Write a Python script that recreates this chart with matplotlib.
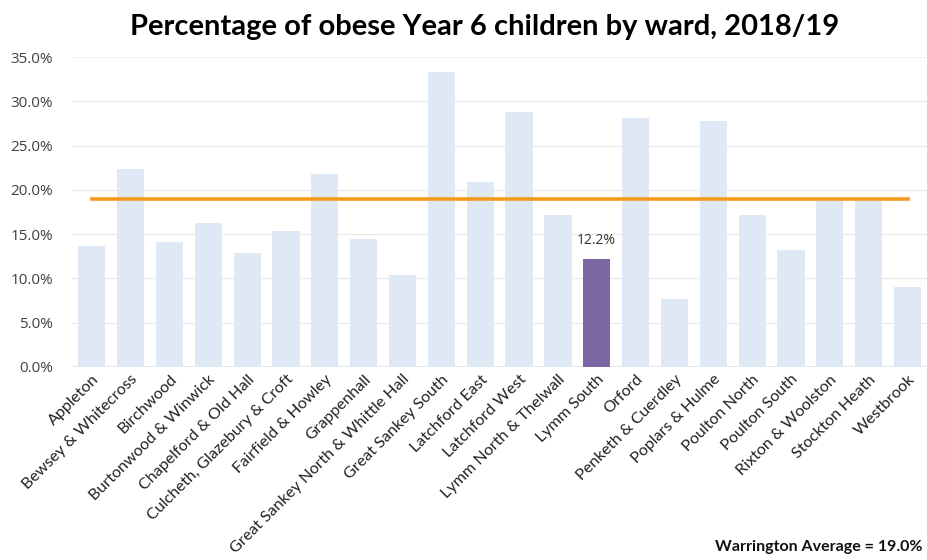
import numpy as np
import matplotlib
matplotlib.use('Agg')
import matplotlib.pyplot as plt
from matplotlib.ticker import PercentFormatter

wards = ['Appleton', 'Bewsey & Whitecross', 'Birchwood', 'Burtonwood & Winwick',
         'Chapelford & Old Hall', 'Culcheth, Glazebury & Croft', 'Fairfield & Howley',
         'Grappenhall', 'Great Sankey North & Whittle Hall', 'Great Sankey South',
         'Latchford East', 'Latchford West', 'Lymm North & Thelwall', 'Lymm South',
         'Orford', 'Penketh & Cuerdley', 'Poplars & Hulme', 'Poulton North',
         'Poulton South', 'Rixton & Woolston', 'Stockton Heath', 'Westbrook']
obese_pct = [13.6, 22.3, 14.1, 16.2, 12.9, 15.4, 21.8, 14.4, 10.4, 33.3,
             20.9, 28.8, 17.2, 12.2, 28.1, 7.7, 27.8, 17.2, 13.2, 18.9, 18.9, 9.0]
highlight = 'Lymm South'
warrington_avg = 19.0

x = np.arange(len(wards))
colors = ['#7B67A3' if w == highlight else '#DEE9F5' for w in wards]

fig = plt.figure(figsize=(9.27, 5.6), dpi=100)
ax = fig.add_axes([0.078, 0.345, 0.922, 0.553])

ax.bar(x, obese_pct, width=0.7, color=colors, zorder=2)
ax.plot([x[0], x[-1]], [warrington_avg, warrington_avg], color='#F59A1B', lw=2.6, zorder=3)

i = wards.index(highlight)
ax.text(x[i], obese_pct[i] + 1.2, f'{obese_pct[i]:.1f}%', ha='center', va='bottom',
        fontsize=10, family='Open Sans', color='#333333')

ax.set_xlim(-0.5, 21.5)
ax.set_ylim(0, 35)
ax.set_yticks(np.arange(0, 36, 5))
ax.yaxis.set_major_formatter(PercentFormatter(decimals=1))
for t in ax.get_yticklabels():
    t.set_family('Open Sans')
    t.set_fontsize(11)
    t.set_color('#404040')
ax.tick_params(axis='y', length=0, pad=14)
ax.tick_params(axis='x', length=0, pad=4)

ax.set_xticks(x)
ax.set_xticklabels(wards, rotation=45, ha='right', rotation_mode='anchor',
                   fontsize=11.6, family='Lato', color='#222222')

for y in range(5, 35, 5):
    ax.axhline(y, color='#EBEBEB', lw=1, zorder=1)
ax.axhline(35, color='#D9D9D9', lw=0.8, ls=':', zorder=1)
ax.axhline(0, color='#E3E3E3', lw=1.2, zorder=1)
for s in ax.spines.values():
    s.set_visible(False)

fig.suptitle('Percentage of obese Year 6 children by ward, 2018/19', x=0.523, y=0.975,
             fontsize=21, fontweight='bold', family='Lato')
fig.text(0.995, 0.01, 'Warrington Average = 19.0%', ha='right', va='bottom',
         fontsize=11.5, fontweight='bold', family='Lato', color='#111111')

fig.savefig('out.png', dpi=100)
